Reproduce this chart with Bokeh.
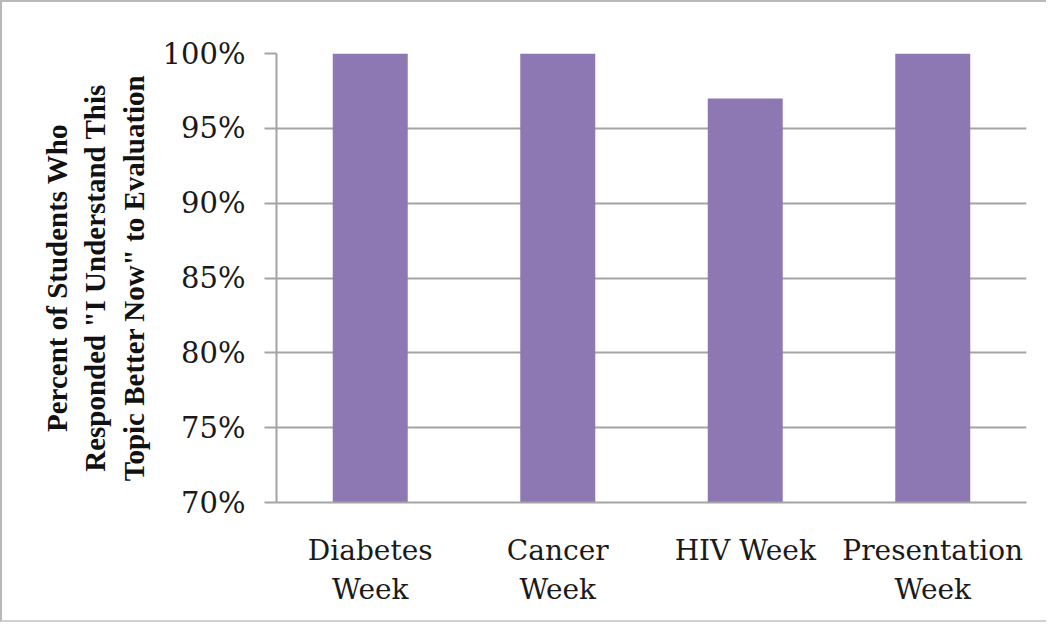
from bokeh.plotting import figure
from bokeh.models import FactorRange, Range1d, FixedTicker, NumeralTickFormatter, ColumnDataSource
from bokeh.embed import file_html
from bokeh.resources import INLINE

categories = ["Diabetes\nWeek", "Cancer\nWeek", "HIV Week", "Presentation\nWeek"]
values = [1.00, 1.00, 0.97, 1.00]
y_ticks = [0.70, 0.75, 0.80, 0.85, 0.90, 0.95, 1.00]
y_title = 'Percent of Students Who\nResponded "I Understand This\nTopic Better Now" to Evaluation'

src = ColumnDataSource(dict(cat=categories, val=values))

p = figure(width=1046, height=622, output_backend="svg", toolbar_location=None,
           x_range=FactorRange(*categories, range_padding=0), y_range=Range1d(0.70, 1.00))
p.min_border_left = 274
p.min_border_right = 22
p.min_border_top = 51
p.min_border_bottom = 122
p.outline_line_color = None
p.background_fill_color = "white"
p.border_fill_color = "white"
p.styles = {"border-top": "2px solid #b8b8b8", "border-left": "2px solid #b8b8b8",
            "border-bottom": "2px solid #d0d0d0"}

p.vbar(x="cat", top="val", bottom=0.70, width=0.4, source=src,
       fill_color="#8E78B3", line_color=None)

grid_col = "#a4a4a4"
p.xgrid.grid_line_color = None
p.ygrid.grid_line_color = grid_col
p.ygrid.grid_line_width = 2
p.yaxis.ticker = FixedTicker(ticks=y_ticks)
p.yaxis.formatter = NumeralTickFormatter(format="0%")
p.yaxis.axis_line_color = grid_col
p.yaxis.axis_line_width = 2
p.yaxis.major_tick_line_color = grid_col
p.yaxis.major_tick_line_width = 2
p.yaxis.major_tick_out = 12
p.yaxis.major_tick_in = 0
p.yaxis.minor_tick_line_color = None
p.yaxis.major_label_text_font = "DejaVu Serif"
p.yaxis.major_label_text_font_size = "29px"
p.yaxis.major_label_text_color = "#1a1a1a"
p.yaxis.major_label_standoff = 19
p.yaxis.axis_label = y_title
p.yaxis.axis_label_text_font = "Liberation Serif"
p.yaxis.axis_label_text_font_style = "bold"
p.yaxis.axis_label_text_font_size = "29px"
p.yaxis.axis_label_text_color = "#111111"
p.yaxis.axis_label_standoff = 10

p.xaxis.axis_line_color = grid_col
p.xaxis.axis_line_width = 2
p.xaxis.major_tick_line_color = None
p.xaxis.minor_tick_line_color = None
p.xaxis.major_label_text_font = "DejaVu Serif"
p.xaxis.major_label_text_font_size = "28px"
p.xaxis.major_label_text_color = "#1a1a1a"
p.xaxis.major_label_standoff = 25

open("out.html", "w").write(file_html(p, INLINE))
